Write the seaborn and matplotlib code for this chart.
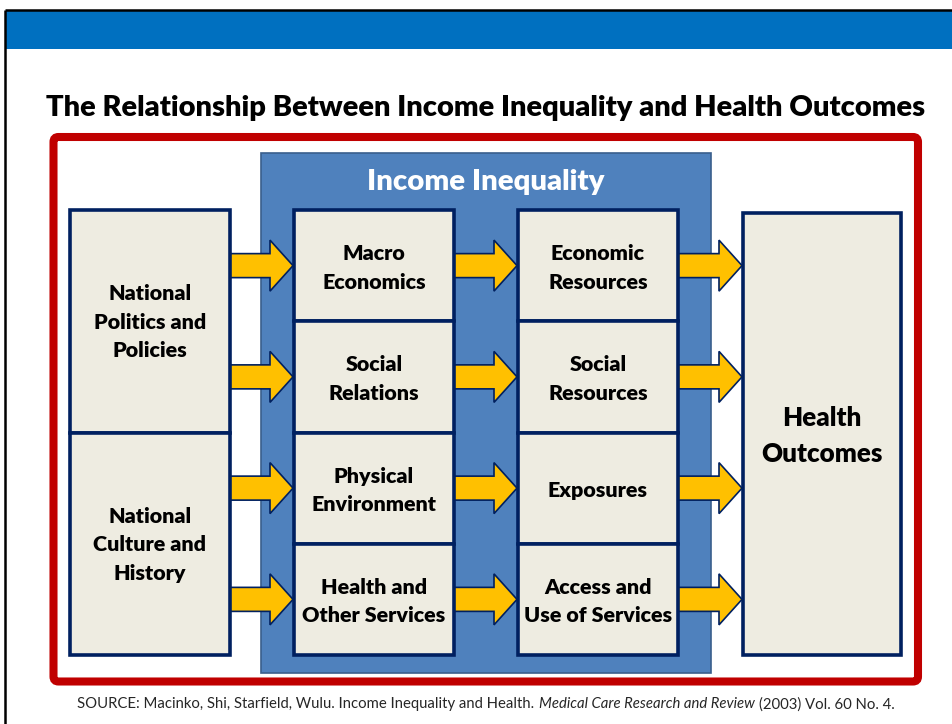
import matplotlib
matplotlib.use("Agg")
import matplotlib.pyplot as plt
import seaborn as sns
from matplotlib.patches import FancyBboxPatch, Rectangle, Polygon

sns.set_theme(style="white")
plt.rcParams['font.family'] = ['Lato', 'DejaVu Sans']

# ---- content ----
title = "The Relationship Between Income Inequality and Health Outcomes"
group_label = "Income Inequality"
left_labels = [["National", "Politics and", "Policies"],
               ["National", "Culture and", "History"]]
mid_labels = [["Macro", "Economics"], ["Social", "Relations"],
              ["Physical", "Environment"], ["Health and", "Other Services"]]
right_labels = [["Economic", "Resources"], ["Social", "Resources"],
                ["Exposures"], ["Access and", "Use of Services"]]
outcome_label = ["Health", "Outcomes"]
source_parts = [("SOURCE: Macinko, Shi, Starfield, Wulu. Income Inequality and Health.", "normal"),
                ("Medical Care Research and Review", "italic"),
                ("(2003) Vol. 60 No. 4.", "normal")]

# ---- colours ----
BANNER = "#0070C0"
RED = "#C00000"
GROUP = "#4F81BD"
GROUP_EDGE = "#3A5F8C"
BOX = "#EEECE1"
NAVY = "#002060"
ARROW = "#FFC000"
WEIGHT = "heavy"

W, H = 953, 724
fig = plt.figure(figsize=(W / 100, H / 100), dpi=100)
ax = fig.add_axes([0, 0, 1, 1])
ax.set_xlim(0, W)
ax.set_ylim(H, 0)
ax.axis("off")
renderer = fig.canvas.get_renderer()


def measure(text, weight="normal", style="normal"):
    t = ax.text(0, 0, "x" + text + "x", fontsize=10, weight=weight, style=style)
    w = t.get_window_extent(renderer).width
    t.remove()
    t = ax.text(0, 0, "xx", fontsize=10, weight=weight, style=style)
    w2 = t.get_window_extent(renderer).width
    t.remove()
    return w - w2


def fit(text, target, weight=WEIGHT, style="normal"):
    return 10 * target / measure(text, weight, style)


def label(x, yc, lines, size, spacing, color="black"):
    n = len(lines)
    cap = size * 100 / 72 * 0.72
    for i, ln in enumerate(lines):
        y = yc + (i - (n - 1) / 2) * spacing
        ax.text(x, y + cap / 2, ln, ha="center", va="baseline", fontsize=size,
                weight=WEIGHT, color=color, zorder=10)


# slide frame and banner
ax.plot([5, 5], [10, H], color="black", lw=1.8, solid_capstyle="butt")
ax.plot([5, W], [10, 10], color="black", lw=1.8, solid_capstyle="butt")
ax.add_patch(Rectangle((6, 11), W - 6, 38, facecolor=BANNER, edgecolor="none"))

# title
ts = fit(title, 886)
label(486, 106, [title], ts, 0)

# red frame
ax.add_patch(FancyBboxPatch((53.5, 137), 918 - 53.5, 681.5 - 137,
                            boxstyle="round,pad=0,rounding_size=5",
                            facecolor="white", edgecolor=RED, lw=5.8, zorder=1))

# group box
ax.add_patch(Rectangle((261, 153), 711 - 261, 673 - 153, facecolor=GROUP,
                       edgecolor=GROUP_EDGE, lw=1.2, zorder=2))
gs = fit(group_label, 239)
label(486, 179, [group_label], gs, 0, color="white")

# grid geometry
top, bottom = 210, 655
rows = 4
rh = (bottom - top) / rows
cols = [(70, 230), (294, 454), (518, 678), (743, 901)]
box_lw = 2.6

bs = fit("Other Services", 144)
spacing = 28.5


def box(x0, x1, y0, y1):
    ax.add_patch(Rectangle((x0, y0), x1 - x0, y1 - y0, facecolor=BOX,
                           edgecolor=NAVY, lw=box_lw, zorder=5))


# left column (two boxes)
for i, lines in enumerate(left_labels):
    y0 = top + i * 2 * rh
    y1 = y0 + 2 * rh
    box(cols[0][0], cols[0][1], y0, y1)
    label((cols[0][0] + cols[0][1]) / 2, (y0 + y1) / 2, lines, bs, spacing)

# middle columns
for c, labels in ((1, mid_labels), (2, right_labels)):
    for i, lines in enumerate(labels):
        y0 = top + i * rh
        y1 = y0 + rh
        box(cols[c][0], cols[c][1], y0, y1)
        label((cols[c][0] + cols[c][1]) / 2, (y0 + y1) / 2 + 1, lines, bs, spacing)

# outcome box
box(cols[3][0], cols[3][1], 213, bottom)
os_ = fit("Outcomes", 122)
label((cols[3][0] + cols[3][1]) / 2, 435, outcome_label, os_, 36)

# arrows
shaft, head, head_len = 12, 25.5, 23
for c in range(3):
    x0 = cols[c][1]
    tip = cols[c + 1][0] - 1
    for i in range(rows):
        yc = top + (i + 0.5) * rh
        pts = [(x0, yc - shaft), (tip - head_len, yc - shaft), (tip - head_len, yc - head),
               (tip, yc), (tip - head_len, yc + head), (tip - head_len, yc + shaft),
               (x0, yc + shaft)]
        ax.add_patch(Polygon(pts, closed=True, facecolor=ARROW, edgecolor=NAVY,
                             lw=1.2, joinstyle="miter", zorder=4))

# source line: pieces placed by their rendered extents, then centred
total_target = 813
widths = [measure(txt, "normal", st) for txt, st in source_parts]
space_w = measure(" ")
ss = 10 * total_target / (sum(widths) + space_w * (len(widths) - 1))
gap = max(space_w * ss / 10, 3.5) + 1.0
y_src = 703 + ss * 100 / 72 * 0.36
pieces = []
x = 0.0
for txt, st in source_parts:
    t = ax.text(x, y_src, txt, fontsize=ss, style=st, color="#262626",
                ha="left", va="baseline")
    bb = t.get_window_extent(renderer)
    pieces.append(t)
    x = bb.x1 + gap
span = x - gap
shift = 486 - span / 2
for t in pieces:
    t.set_x(t.get_position()[0] + shift)

fig.savefig("out.png", dpi=100)
